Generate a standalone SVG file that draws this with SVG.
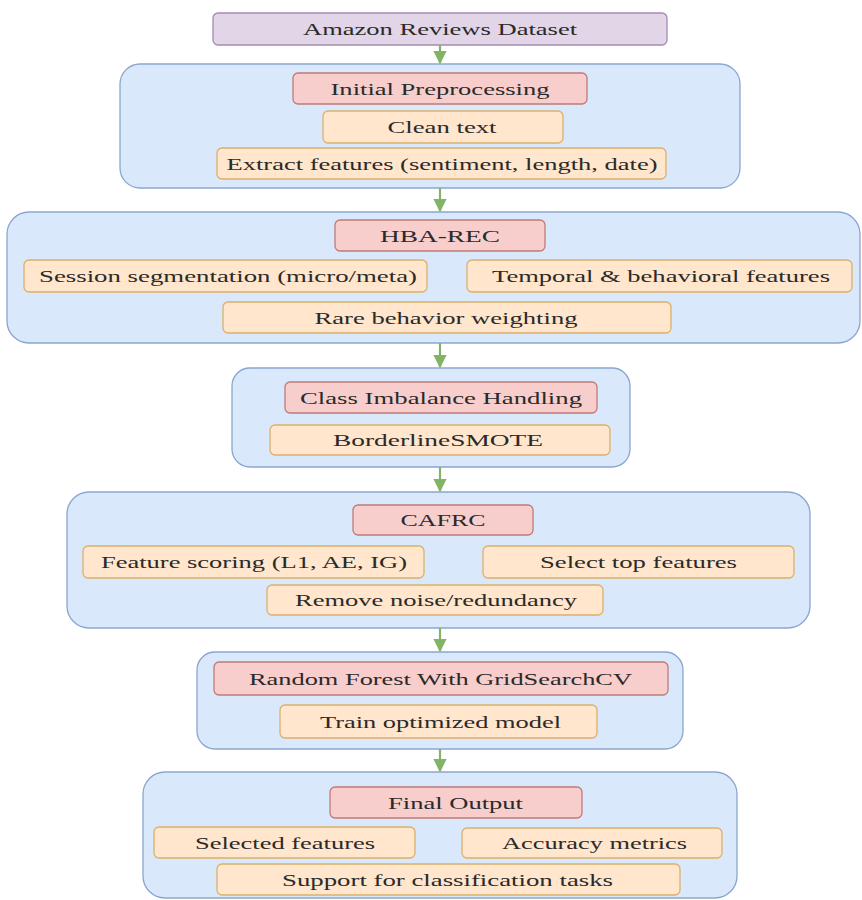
<svg xmlns="http://www.w3.org/2000/svg" width="862" height="900" viewBox="0 0 862 900">
<style>
.bg{fill:#ffffff}
.cl{fill:#dae8fc;stroke:#8aa6d0;stroke-width:1.3}
.hd{fill:#f8cecc;stroke:#c07a77;stroke-width:1.3}
.it{fill:#ffe6cc;stroke:#dcb06a;stroke-width:1.3}
.src{fill:#e1d5e7;stroke:#a58bb4;stroke-width:1.3}
text{font-family:"Liberation Serif","Times New Roman",serif;font-size:17px;fill:#2a2a2a;text-anchor:middle}
.ar{stroke:#82b366;stroke-width:2.2;fill:none}
</style>
<defs>
<marker id="ah" viewBox="0 0 10 10" refX="9" refY="5" markerWidth="6" markerHeight="6" orient="auto" markerUnits="strokeWidth">
<path d="M0,0 L10,5 L0,10 z" fill="#82b366"/>
</marker>
</defs>
<rect class="bg" x="0" y="0" width="862" height="900"/>

<g id="source">
<rect class="src" x="213" y="13" width="454" height="32" rx="5"/>
<text transform="translate(440,35) scale(1.5,1)" textLength="182.7" lengthAdjust="spacingAndGlyphs">Amazon Reviews Dataset</text>
</g>

<g id="cluster-preprocessing">
<rect class="cl" x="120" y="64" width="620" height="124" rx="20"/>
<g id="initial-preprocessing">
<rect class="hd" x="293" y="73" width="294" height="31" rx="5"/>
<text transform="translate(440,94.5) scale(1.5,1)" textLength="146" lengthAdjust="spacingAndGlyphs">Initial Preprocessing</text>
</g>
<g id="clean-text">
<rect class="it" x="323" y="111" width="240" height="32" rx="5"/>
<text transform="translate(442,133) scale(1.5,1)" textLength="72.7" lengthAdjust="spacingAndGlyphs">Clean text</text>
</g>
<g id="extract-features">
<rect class="it" x="217" y="148" width="449" height="31" rx="5"/>
<text transform="translate(442,169.5) scale(1.5,1)" textLength="287.3" lengthAdjust="spacingAndGlyphs">Extract features (sentiment, length, date)</text>
</g>
</g>

<g id="cluster-hba-rec">
<rect class="cl" x="7" y="212" width="853" height="131" rx="22"/>
<g id="hba-rec">
<rect class="hd" x="335" y="220" width="210" height="31" rx="5"/>
<text transform="translate(440,241.5) scale(1.5,1)" textLength="80" lengthAdjust="spacingAndGlyphs">HBA-REC</text>
</g>
<g id="session-segmentation">
<rect class="it" x="24" y="260" width="403" height="32" rx="5"/>
<text transform="translate(228,282) scale(1.5,1)" textLength="252" lengthAdjust="spacingAndGlyphs">Session segmentation (micro/meta)</text>
</g>
<g id="temporal-features">
<rect class="it" x="467" y="260" width="385" height="32" rx="5"/>
<text transform="translate(661,282) scale(1.5,1)" textLength="225.3" lengthAdjust="spacingAndGlyphs">Temporal &amp; behavioral features</text>
</g>
<g id="rare-behavior">
<rect class="it" x="223" y="302" width="448" height="31" rx="5"/>
<text transform="translate(446,323.5) scale(1.5,1)" textLength="175.3" lengthAdjust="spacingAndGlyphs">Rare behavior weighting</text>
</g>
</g>

<g id="cluster-imbalance">
<rect class="cl" x="232" y="368" width="398" height="99" rx="18"/>
<g id="class-imbalance">
<rect class="hd" x="285" y="382" width="312" height="31" rx="5"/>
<text transform="translate(441,403.5) scale(1.5,1)" textLength="188" lengthAdjust="spacingAndGlyphs">Class Imbalance Handling</text>
</g>
<g id="borderline-smote">
<rect class="it" x="270" y="425" width="340" height="30" rx="5"/>
<text transform="translate(438,446) scale(1.5,1)" textLength="140" lengthAdjust="spacingAndGlyphs">BorderlineSMOTE</text>
</g>
</g>

<g id="cluster-cafrc">
<rect class="cl" x="67" y="492" width="743" height="136" rx="22"/>
<g id="cafrc">
<rect class="hd" x="353" y="505" width="180" height="30" rx="5"/>
<text transform="translate(443,526) scale(1.5,1)" textLength="56.7" lengthAdjust="spacingAndGlyphs">CAFRC</text>
</g>
<g id="feature-scoring">
<rect class="it" x="83" y="546" width="341" height="32" rx="5"/>
<text transform="translate(254,568) scale(1.5,1)" textLength="204" lengthAdjust="spacingAndGlyphs">Feature scoring (L1, AE, IG)</text>
</g>
<g id="select-top">
<rect class="it" x="483" y="546" width="311" height="32" rx="5"/>
<text transform="translate(638.5,568) scale(1.5,1)" textLength="131.3" lengthAdjust="spacingAndGlyphs">Select top features</text>
</g>
<g id="remove-noise">
<rect class="it" x="267" y="585" width="336" height="30" rx="5"/>
<text transform="translate(436,606) scale(1.5,1)" textLength="188" lengthAdjust="spacingAndGlyphs">Remove noise/redundancy</text>
</g>
</g>

<g id="cluster-model">
<rect class="cl" x="197" y="652" width="486" height="97" rx="18"/>
<g id="random-forest">
<rect class="hd" x="214" y="662" width="454" height="33" rx="5"/>
<text transform="translate(440.5,684.5) scale(1.5,1)" textLength="255.3" lengthAdjust="spacingAndGlyphs">Random Forest With GridSearchCV</text>
</g>
<g id="train-model">
<rect class="it" x="280" y="705" width="317" height="33" rx="5"/>
<text transform="translate(440.5,727.5) scale(1.5,1)" textLength="160.7" lengthAdjust="spacingAndGlyphs">Train optimized model</text>
</g>
</g>

<g id="cluster-output">
<rect class="cl" x="143" y="772" width="594" height="126" rx="22"/>
<g id="final-output">
<rect class="hd" x="330" y="787" width="252" height="31" rx="5"/>
<text transform="translate(455.5,808.5) scale(1.5,1)" textLength="90" lengthAdjust="spacingAndGlyphs">Final Output</text>
</g>
<g id="selected-features">
<rect class="it" x="154" y="827" width="261" height="31" rx="5"/>
<text transform="translate(285,848.5) scale(1.5,1)" textLength="120" lengthAdjust="spacingAndGlyphs">Selected features</text>
</g>
<g id="accuracy-metrics">
<rect class="it" x="462" y="828" width="260" height="30" rx="5"/>
<text transform="translate(594.5,849) scale(1.5,1)" textLength="123.3" lengthAdjust="spacingAndGlyphs">Accuracy metrics</text>
</g>
<g id="support-classification">
<rect class="it" x="217" y="864" width="463" height="31" rx="5"/>
<text transform="translate(447.5,885.5) scale(1.5,1)" textLength="220.7" lengthAdjust="spacingAndGlyphs">Support for classification tasks</text>
</g>
</g>

<g id="connectors">
<line class="ar" x1="440" y1="45" x2="440" y2="63" marker-end="url(#ah)"/>
<line class="ar" x1="440" y1="188" x2="440" y2="211" marker-end="url(#ah)"/>
<line class="ar" x1="440" y1="343" x2="440" y2="367" marker-end="url(#ah)"/>
<line class="ar" x1="440" y1="467" x2="440" y2="491" marker-end="url(#ah)"/>
<line class="ar" x1="440" y1="628" x2="440" y2="651" marker-end="url(#ah)"/>
<line class="ar" x1="440" y1="749" x2="440" y2="771" marker-end="url(#ah)"/>
</g>
</svg>
